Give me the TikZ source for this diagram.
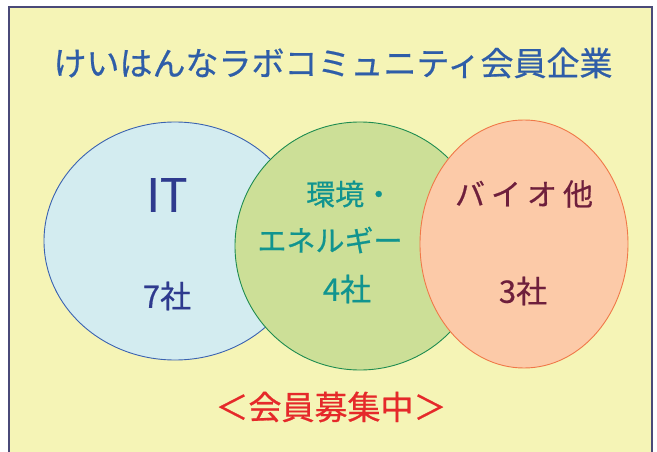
\documentclass[tikz,border=0pt]{standalone}
\usepackage{fontspec}
\setmainfont{Noto Sans CJK JP}[FakeBold=0.6]
\definecolor{bgyellow}{HTML}{F5F4B6}
\definecolor{framec}{HTML}{4A4A78}
\definecolor{bluefill}{HTML}{D3ECF0}
\definecolor{bluedraw}{HTML}{3A62B0}
\definecolor{greenfill}{HTML}{CCDF97}
\definecolor{greendraw}{HTML}{1E8C50}
\definecolor{orangefill}{HTML}{FCCAA8}
\definecolor{orangedraw}{HTML}{F07848}
\definecolor{titleblue}{HTML}{2E5DA8}
\definecolor{itblue}{HTML}{2E3A8E}
\definecolor{teal2}{HTML}{11948F}
\definecolor{maroon2}{HTML}{6E1F3C}
\definecolor{red2}{HTML}{E5292A}
\begin{document}
\begin{tikzpicture}[x=1pt,y=-1pt,
  lbl/.style={inner sep=0pt, anchor=center},
  blob/.style={line width=0.9pt}]
\useasboundingbox (0,0) rectangle (657,452);
\fill[white] (0,0) rectangle (657,452);
\filldraw[fill=bgyellow, draw=framec, line width=1.5pt] (9,7) rectangle (652,470);
\filldraw[blob, fill=bluefill, draw=bluedraw] (175,241) ellipse [x radius=131, y radius=119];
\filldraw[blob, fill=greenfill, draw=greendraw] (360,246) ellipse [x radius=125, y radius=124];
\filldraw[blob, fill=orangefill, draw=orangedraw] (524,244) ellipse [x radius=104, y radius=124];
\node[lbl, text=titleblue, font=\fontsize{33}{36}\selectfont] (title) at (333,63) {けいはんなラボコミュニティ会員企業};
\node[lbl, text=itblue, font=\fontsize{46}{50}\selectfont] (it) at (167,195) {IT};
\node[lbl, text=itblue, font=\fontsize{31}{34}\selectfont] (itn) at (167,296) {7社};
\node[lbl, text=teal2, font=\fontsize{29}{32}\selectfont, anchor=west] (env1) at (306,194) {環境・};
\node[lbl, text=teal2, font=\fontsize{29}{32}\selectfont] (env2) at (330,240) {エネルギー};
\node[lbl, text=teal2, font=\fontsize{31}{34}\selectfont] (envn) at (347,289) {4社};
\node[lbl, text=maroon2, font=\fontsize{30}{33}\selectfont] (bio) at (524,194) {バ\hspace{6pt}イ\hspace{6pt}オ\hspace{6pt}他};
\node[lbl, text=maroon2, font=\fontsize{31}{34}\selectfont] (bion) at (523,291) {3社};
\node[lbl, text=red2, font=\fontsize{33}{36}\selectfont] (recruit) at (331,407) {＜会員募集中＞};
\end{tikzpicture}
\end{document}
